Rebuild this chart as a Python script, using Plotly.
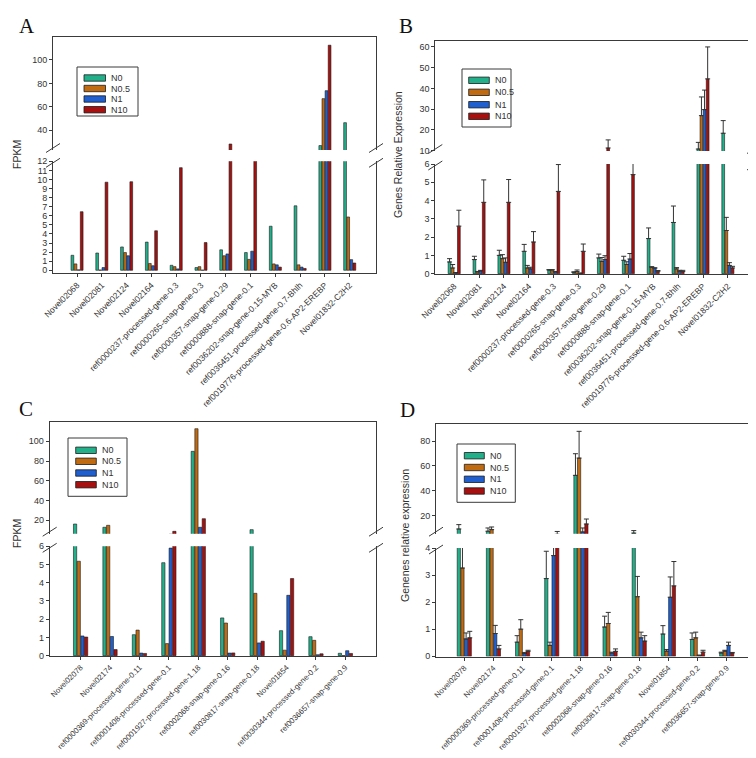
import plotly.graph_objects as go

W, H = 756, 758

series = ["N0", "N0.5", "N1", "N10"]
bar_colors = ["#22b08a", "#c06a12", "#1f5fcf", "#a81010"]

cats_AB = ["Novel02068", "Novel02081", "Novel02124", "Novel02164",
           "ref0000237-processed-gene-0.3", "ref0000265-snap-gene-0.3",
           "ref0000357-snap-gene-0.29", "ref0000888-snap-gene-0.1",
           "ref0036202-snap-gene-0.15-MYB", "ref0036451-processed-gene-0.7-Bhlh",
           "ref0019776-processed-gene-0.6-AP2-EREBP", "Novel01832-C2H2"]
cats_CD = ["Novel02078", "Novel02174", "ref0000369-processed-gene-0.11",
           "ref0001408-processed-gene-0.1", "ref0001927-processed-gene-1.18",
           "ref0002068-snap-gene-0.16", "ref0030817-snap-gene-0.18", "Novel01854",
           "ref0030344-processed-gene-0.2", "ref0036657-snap-gene-0.9"]

# Panel A (FPKM)
A_N0 = [1.65, 1.9, 2.57, 3.1, 0.55, 0.3, 2.25, 1.95, 4.85, 7.1, 27.0, 46.5]
A_N05 = [0.7, 0.03, 1.95, 0.75, 0.4, 0.4, 1.6, 1.2, 0.7, 0.6, 67.0, 5.87]
A_N1 = [0.05, 0.3, 1.6, 0.5, 0.15, 0.02, 1.8, 2.1, 0.6, 0.35, 73.8, 1.17]
A_N10 = [6.45, 9.7, 9.75, 4.35, 11.3, 3.05, 28.3, 16.0, 0.35, 0.2, 112.6, 0.8]

# Panel B (relative expression, with SD)
B_N0 = [0.64, 0.77, 1.0, 1.22, 0.2, 0.07, 0.86, 0.73, 1.92, 2.8, 10.8, 18.4]
B_N0_err = [0.18, 0.18, 0.28, 0.38, 0.02, 0.03, 0.21, 0.22, 0.58, 0.9, 3.2, 6.1]
B_N05 = [0.31, 0.1, 0.82, 0.31, 0.2, 0.12, 0.67, 0.5, 0.35, 0.26, 26.9, 2.36]
B_N05_err = [0.19, 0.02, 0.22, 0.14, 0.02, 0.08, 0.21, 0.15, 0.03, 0.07, 9.0, 0.72]
B_N1 = [0.05, 0.15, 0.62, 0.26, 0.1, 0.02, 0.77, 0.8, 0.3, 0.13, 29.8, 0.45]
B_N1_err = [0.01, 0.03, 0.24, 0.09, 0.02, 0.01, 0.21, 0.3, 0.02, 0.05, 9.4, 0.15]
B_N10 = [2.6, 3.9, 3.9, 1.73, 4.5, 1.22, 11.3, 5.42, 0.13, 0.12, 44.6, 0.31]
B_N10_err = [0.87, 1.23, 1.25, 0.57, 1.47, 0.4, 3.9, 1.08, 0.04, 0.06, 15.4, 0.09]

# Panel C (FPKM)
C_N0 = [16.2, 12.9, 1.15, 5.1, 89.8, 2.07, 10.5, 1.37, 1.04, 0.13]
C_N05 = [5.18, 14.9, 1.4, 0.66, 112.7, 1.79, 3.42, 0.3, 0.84, 0.0]
C_N1 = [1.08, 1.05, 0.14, 5.9, 12.9, 0.14, 0.7, 3.31, 0.05, 0.27]
C_N10 = [1.02, 0.33, 0.12, 8.8, 21.6, 0.15, 0.79, 4.23, 0.1, 0.12]

# Panel D (relative expression, with SD)
D_N0 = [9.3, 7.5, 0.52, 2.87, 52.4, 1.08, 6.0, 0.82, 0.62, 0.12]
D_N0_err = [3.5, 2.6, 0.24, 1.01, 17.4, 0.4, 2.0, 0.31, 0.24, 0.03]
D_N05 = [3.26, 8.8, 1.0, 0.4, 66.3, 1.21, 2.2, 0.19, 0.68, 0.19]
D_N05_err = [1.24, 2.1, 0.35, 0.12, 21.5, 0.41, 0.75, 0.06, 0.21, 0.03]
D_N1 = [0.64, 0.84, 0.1, 3.72, 6.9, 0.12, 0.68, 2.18, 0.03, 0.4]
D_N1_err = [0.22, 0.3, 0.04, 0.48, 3.2, 0.03, 0.21, 0.75, 0.01, 0.12]
D_N10 = [0.68, 0.27, 0.18, 5.0, 13.3, 0.18, 0.56, 2.6, 0.15, 0.12]
D_N10_err = [0.24, 0.13, 0.04, 2.3, 4.0, 0.09, 0.2, 0.9, 0.07, 0.02]


def px_x(p):
    return p / W


def px_y(p):
    return 1 - p / H


FONT = "Liberation Sans, Arial, sans-serif"
SERIF = "Liberation Serif, Times New Roman, serif"
LINE = "#3a3a3a"
TXT = "#2a2a2a"

panels = [
    dict(label="A", cats=cats_AB, vals=[A_N0, A_N05, A_N1, A_N10], errs=None,
         xpx=(45, 368), up=(29, 142), low=(153.3, 265),
         up_range=[23.2, 119.6], low_range=[-0.3, 12],
         up_ticks=[40, 60, 80, 100], low_ticks=list(range(0, 13)),
         xrange=[-0.97, 12.06], title="FPKM", title_pos=(9, 147),
         label_pos=(9, 4), xfont=8.5,
         legend=dict(box=(69, 59, 130, 108), rows=[70, 80.5, 91, 101.7],
                     sw=(76, 97.5), tx=101)),
    dict(label="B", cats=cats_AB, vals=[B_N0, B_N05, B_N1, B_N10],
         errs=[B_N0_err, B_N05_err, B_N1_err, B_N10_err],
         xpx=(427.3, 746), up=(32.7, 143), low=(156, 266),
         up_range=[9.85, 63], low_range=[-0.02, 6],
         up_ticks=[10, 20, 30, 40, 50, 60], low_ticks=list(range(0, 7)),
         xrange=[-0.76, 12.05], title="Genes Relative Expression",
         title_pos=(390, 147), label_pos=(389, 4), xfont=8.5,
         legend=dict(box=(454, 61, 503, 119), rows=[72.3, 84.3, 96.7, 108.3],
                     sw=(460.7, 481.3), tx=485)),
    dict(label="C", cats=cats_CD, vals=[C_N0, C_N05, C_N1, C_N10], errs=None,
         xpx=(41.7, 368), up=(414, 525.7), low=(538.3, 648),
         up_range=[6.4, 119.5], low_range=[-0.02, 6],
         up_ticks=[20, 40, 60, 80, 100], low_ticks=list(range(0, 7)),
         xrange=[-1.05, 10.04], title="FPKM", title_pos=(9, 526),
         label_pos=(9, 387), xfont=7.8,
         legend=dict(box=(60, 430, 119, 488.3), rows=[442.3, 453.3, 465, 476.7],
                     sw=(67.7, 88.3), tx=92.3)),
    dict(label="D", cats=cats_CD, vals=[D_N0, D_N05, D_N1, D_N10],
         errs=[D_N0_err, D_N05_err, D_N1_err, D_N10_err],
         xpx=(428, 747), up=(416, 525.7), low=(540, 648.5),
         up_range=[5.5, 93.7], low_range=[-0.01, 4],
         up_ticks=[20, 40, 60, 80], low_ticks=list(range(0, 5)),
         xrange=[-0.97, 9.97], title="Genenes relative expression",
         title_pos=(397, 528), label_pos=(390, 388), xfont=7.8,
         legend=dict(box=(449, 436, 507.3, 494.3), rows=[447.7, 459.5, 471.3, 483],
                     sw=(456.3, 476.3), tx=479.7)),
]

fig = go.Figure()
layout = dict(
    width=W, height=H, margin=dict(l=0, r=0, t=0, b=0),
    paper_bgcolor="white", plot_bgcolor="white",
    barmode="group", bargap=0.5, bargroupgap=0.12,
    showlegend=False, font=dict(family=FONT, color=TXT),
)
shapes = []
annotations = []

ax_i = 0
for p in panels:
    xu, xl = ax_i + 1, ax_i + 2   # upper / lower axis indices
    ax_i += 2
    xu_name = "x" if xu == 1 else f"x{xu}"
    xl_name = f"x{xl}"
    yu_name = "y" if xu == 1 else f"y{xu}"
    yl_name = f"y{xl}"
    xdom = [px_x(p["xpx"][0]), px_x(p["xpx"][1])]

    for si, name in enumerate(series):
        err = None
        if p["errs"] is not None:
            err = dict(type="data", symmetric=False, array=p["errs"][si],
                       arrayminus=[0] * len(p["errs"][si]),
                       color="#333333", thickness=1, width=2.5)
        for xa, ya in ((xu_name, yu_name), (xl_name, yl_name)):
            fig.add_trace(go.Bar(
                x=p["cats"], y=p["vals"][si], name=name,
                marker=dict(color=bar_colors[si], line=dict(color="#1a1a1a", width=0.6)),
                error_y=err, xaxis=xa, yaxis=ya, showlegend=False,
            ))

    xkey_u = "xaxis" if xu == 1 else f"xaxis{xu}"
    ykey_u = "yaxis" if xu == 1 else f"yaxis{xu}"
    xkey_l = f"xaxis{xl}"
    ykey_l = f"yaxis{xl}"

    layout[xkey_u] = dict(domain=xdom, anchor=yu_name, side="top", range=p["xrange"],
                          showline=True, linecolor=LINE, linewidth=1, ticks="",
                          showticklabels=False, showgrid=False, zeroline=False,
                          type="category", automargin=False, fixedrange=True)
    layout[xkey_l] = dict(domain=xdom, anchor=yl_name, range=p["xrange"],
                          showline=True, linecolor=LINE, linewidth=1,
                          ticks="outside", ticklen=3, tickcolor=LINE,
                          tickangle=-45,
                          tickfont=dict(size=p["xfont"], family=FONT, color="#333"),
                          showgrid=False, zeroline=False, type="category",
                          automargin=False, fixedrange=True)
    layout[ykey_u] = dict(domain=[px_y(p["up"][1]), px_y(p["up"][0])], anchor=xu_name,
                          range=p["up_range"], tickvals=p["up_ticks"],
                          showline=True, mirror=True, linecolor=LINE, linewidth=1,
                          ticks="outside", ticklen=3, tickcolor=LINE,
                          tickfont=dict(size=9, family=FONT, color="#333"),
                          showgrid=False, zeroline=False, automargin=False,
                          fixedrange=True)
    layout[ykey_l] = dict(domain=[px_y(p["low"][1]), px_y(p["low"][0])], anchor=xl_name,
                          range=p["low_range"], tickvals=p["low_ticks"],
                          showline=True, mirror=True, linecolor=LINE, linewidth=1,
                          ticks="outside", ticklen=3, tickcolor=LINE,
                          tickfont=dict(size=9, family=FONT, color="#333"),
                          showgrid=False, zeroline=False, automargin=False,
                          fixedrange=True)

    # break marks on both sides
    for cx in p["xpx"]:
        for cy in (p["up"][1] - 2, p["low"][0] + 1.5):
            shapes.append(dict(type="line", xref="paper", yref="paper",
                               x0=px_x(cx - 7), y0=px_y(cy + 4.5),
                               x1=px_x(cx + 7), y1=px_y(cy - 4.5),
                               line=dict(color=LINE, width=1)))

    # legend
    lg = p["legend"]
    bx0, by0, bx1, by1 = lg["box"]
    shapes.append(dict(type="rect", xref="paper", yref="paper",
                       x0=px_x(bx0), y0=px_y(by1), x1=px_x(bx1), y1=px_y(by0),
                       line=dict(color=LINE, width=1), fillcolor="white"))
    for si, name in enumerate(series):
        ry = lg["rows"][si]
        shapes.append(dict(type="rect", xref="paper", yref="paper",
                           x0=px_x(lg["sw"][0]), y0=px_y(ry + 3.2),
                           x1=px_x(lg["sw"][1]), y1=px_y(ry - 3.2),
                           line=dict(color="#1a1a1a", width=0.8),
                           fillcolor=bar_colors[si]))
        annotations.append(dict(text=name, xref="paper", yref="paper",
                                x=px_x(lg["tx"]), y=px_y(ry), xanchor="left",
                                yanchor="middle", showarrow=False,
                                font=dict(size=9, family=FONT, color="#333")))

    # axis title
    annotations.append(dict(text=p["title"], xref="paper", yref="paper",
                            x=px_x(p["title_pos"][0]), y=px_y(p["title_pos"][1]),
                            xanchor="center", yanchor="middle", textangle=-90,
                            showarrow=False,
                            font=dict(size=10.5, family=FONT, color="#333")))
    # panel letter
    annotations.append(dict(text=p["label"], xref="paper", yref="paper",
                            x=px_x(p["label_pos"][0]), y=px_y(p["label_pos"][1]),
                            xanchor="left", yanchor="top", showarrow=False,
                            font=dict(size=21, family=SERIF, color="#111")))

layout["shapes"] = shapes
layout["annotations"] = annotations
fig.update_layout(**layout)
fig.write_html("out.html")
